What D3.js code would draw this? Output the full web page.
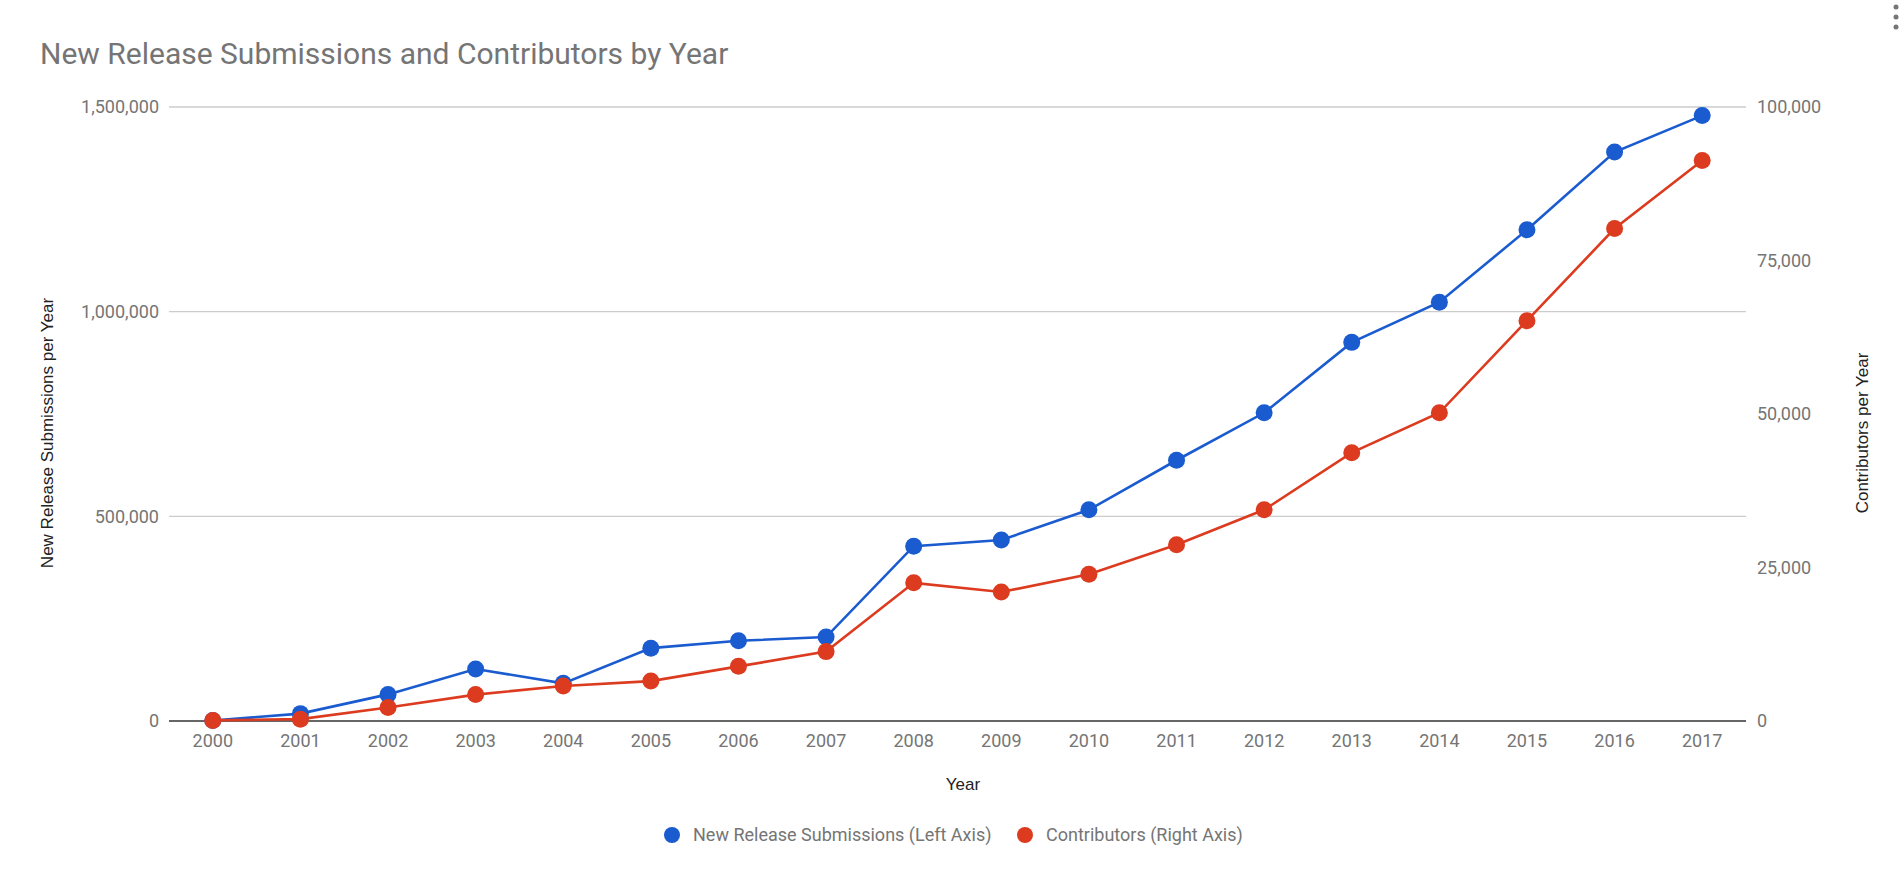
<!DOCTYPE html>
<html>
<head>
<meta charset="utf-8">
<script src="https://cdn.jsdelivr.net/npm/d3@7"></script>
<style>
  html, body { margin: 0; padding: 0; background: #fff; }
  svg { display: block; }
</style>
</head>
<body>
<svg id="chart" width="1902" height="880"></svg>
<script>
const years = ["2000","2001","2002","2003","2004","2005","2006","2007","2008","2009","2010","2011","2012","2013","2014","2015","2016","2017"];
const submissions = [1000, 18000, 65000, 127000, 92000, 178000, 196000, 205000, 427000, 442000, 516000, 637000, 753000, 925000, 1023000, 1200000, 1390000, 1479000];
const contributors = [100, 300, 2200, 4300, 5700, 6500, 8900, 11300, 22500, 21000, 23900, 28700, 34400, 43700, 50200, 65200, 80200, 91300];
const leftTicks = [0, 500000, 1000000, 1500000];
const rightTicks = [0, 25000, 50000, 75000, 100000];
const seriesNames = ["New Release Submissions (Left Axis)", "Contributors (Right Axis)"];
const colors = ["#1a5bcf", "#dc3b1f"];

const svg = d3.select("#chart");
const m = { left: 169, right: 1746, top: 107, bottom: 721 };

const x = d3.scaleBand().domain(years).range([m.left, m.right]);
const yL = d3.scaleLinear().domain([0, 1500000]).range([m.bottom, m.top]);
const yR = d3.scaleLinear().domain([0, 100000]).range([m.bottom, m.top]);
const fmt = d3.format(",");

// title
svg.append("text").attr("x", 40).attr("y", 64)
  .attr("font-family", "Roboto").attr("font-size", 30).attr("fill", "#757575")
  .text("New Release Submissions and Contributors by Year");

// gridlines
svg.append("g").selectAll("line").data(leftTicks.filter(d => d > 0)).join("line")
  .attr("x1", m.left).attr("x2", m.right)
  .attr("y1", d => yL(d)).attr("y2", d => yL(d))
  .attr("stroke", "#cccccc").attr("stroke-width", 1.3);

// left axis
const gL = svg.append("g").attr("transform", `translate(${m.left - 10},0)`)
  .call(d3.axisLeft(yL).tickValues(leftTicks).tickFormat(fmt).tickSize(0).tickPadding(0));
gL.select(".domain").remove();
gL.selectAll("text").attr("font-family", "Roboto").attr("font-size", 18).attr("fill", "#757575");

// right axis
const gR = svg.append("g").attr("transform", `translate(${m.right + 11},0)`)
  .call(d3.axisRight(yR).tickValues(rightTicks).tickFormat(fmt).tickSize(0).tickPadding(0));
gR.select(".domain").remove();
gR.selectAll("text").attr("font-family", "Roboto").attr("font-size", 18).attr("fill", "#757575");

// x axis
const gX = svg.append("g").attr("transform", `translate(0,${m.bottom + 10})`)
  .call(d3.axisBottom(x).tickSize(0).tickPadding(0));
gX.select(".domain").remove();
gX.selectAll("text").attr("font-family", "Roboto").attr("font-size", 18).attr("fill", "#757575").attr("dy", "0.9em");

// baseline
svg.append("line").attr("x1", m.left).attr("x2", m.right)
  .attr("y1", m.bottom).attr("y2", m.bottom)
  .attr("stroke", "#333").attr("stroke-width", 1.5);

// axis titles
const titleCy = 433;
svg.append("text").attr("x", 963).attr("y", 790).attr("text-anchor", "middle")
  .attr("font-family", "Liberation Sans, Arial").attr("font-size", 17).attr("fill", "#222")
  .text("Year");
svg.append("text").attr("transform", `translate(53,${titleCy}) rotate(-90)`)
  .attr("text-anchor", "middle")
  .attr("font-family", "Liberation Sans, Arial").attr("font-size", 17).attr("fill", "#222")
  .text("New Release Submissions per Year");
svg.append("text").attr("transform", `translate(1868,${titleCy}) rotate(-90)`)
  .attr("text-anchor", "middle")
  .attr("font-family", "Liberation Sans, Arial").attr("font-size", 17).attr("fill", "#222")
  .text("Contributors per Year");

// lines & points
const cx = d => x(d) + x.bandwidth() / 2;
const series = [
  { vals: submissions, y: yL, color: colors[0] },
  { vals: contributors, y: yR, color: colors[1] }
];
series.forEach(s => {
  const line = d3.line().x((d, i) => cx(years[i])).y(d => s.y(d));
  svg.append("path").datum(s.vals).attr("d", line)
    .attr("fill", "none").attr("stroke", s.color).attr("stroke-width", 2.6);
  svg.append("g").selectAll("circle").data(s.vals).join("circle")
    .attr("cx", (d, i) => cx(years[i])).attr("cy", d => s.y(d))
    .attr("r", 8.5).attr("fill", s.color);
});

// legend
const legend = svg.append("g");
const lx = [672, 1025];
seriesNames.forEach((n, i) => {
  legend.append("circle").attr("cx", lx[i]).attr("cy", 835).attr("r", 8).attr("fill", colors[i]);
  legend.append("text").attr("x", lx[i] + 21).attr("y", 835).attr("dy", "0.35em")
    .attr("font-family", "Roboto").attr("font-size", 18).attr("fill", "#757575").text(n);
});

// menu dots
[7, 17, 27].forEach(cy => svg.append("circle").attr("cx", 1896).attr("cy", cy).attr("r", 2.5).attr("fill", "#757575"));
</script>
</body>
</html>
